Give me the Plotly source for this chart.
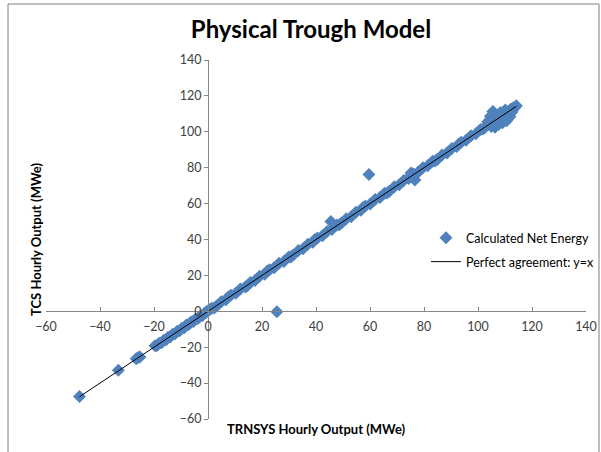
import plotly.graph_objects as go

# ---- data ----
trnsys_mwe = [
    -47.6, -33.2, -26.6, -25.9, -25.2,
    -19.6, -18.9, -18.1, -17.2, -16.4, -15.5, -14.8, -13.9, -13.1, -12.2,
    -11.4, -10.5, -9.7, -8.8, -8.0, -7.1, -6.3, -5.4, -4.6, -3.7, -2.9,
    -2.0, -1.2, -0.5, 0.0, 0.6,
    1.4, 3.2, 4.9, 6.6, 8.5, 10.3, 12.0, 13.8, 15.7, 17.4, 19.1, 21.0,
    22.8, 24.5, 26.3, 28.1, 29.9, 31.6, 33.5, 35.2, 37.0, 38.8, 40.5,
    42.4, 44.1, 45.9, 47.7, 49.5, 51.2, 53.0, 54.8, 56.6, 58.3, 60.1,
    61.9, 63.7, 65.4, 67.2, 69.0, 70.8, 72.5, 74.3, 76.1, 77.9, 79.6,
    81.4, 83.2, 85.0, 86.7, 88.5, 90.3, 92.1, 93.8, 95.6, 97.4, 99.2,
    100.9, 102.5, 104.0, 105.3, 106.7, 108.0, 109.4, 110.8, 112.1, 113.4, 114.2,
    2.3, 7.5, 14.6, 22.0, 30.7, 39.5, 48.6, 57.4, 66.3, 75.1, 84.1, 93.0,
    25.5, 45.5, 59.6, 76.6, 75.2,
    103.6, 104.6, 105.5, 106.4, 104.9, 106.3, 107.6, 109.1, 110.6, 111.8,
    112.6, 113.1, 108.3, 110.1, 101.8,
]
tcs_mwe = [
    -47.4, -32.9, -26.4, -25.7, -25.4,
    -19.2, -19.1, -17.8, -17.5, -16.1, -15.8, -14.5, -14.2, -12.8, -12.5,
    -11.1, -10.8, -9.4, -9.1, -7.7, -7.4, -6.0, -5.7, -4.3, -4.0, -2.6,
    -2.3, -0.9, -0.2, 0.3, 0.9,
    1.7, 3.0, 5.3, 6.4, 8.9, 10.1, 12.4, 13.6, 16.1, 17.1, 19.5, 20.7,
    23.2, 24.2, 26.7, 27.8, 30.3, 31.3, 33.9, 34.9, 37.4, 38.5, 40.9,
    42.1, 44.5, 45.6, 48.1, 49.2, 51.6, 52.7, 55.2, 56.3, 58.7, 59.8,
    62.3, 63.4, 65.8, 66.9, 69.4, 70.5, 72.9, 74.0, 76.5, 77.6, 80.0,
    81.1, 83.6, 84.7, 87.1, 88.2, 90.7, 91.8, 94.2, 95.3, 97.8, 98.9,
    101.3, 102.2, 104.4, 105.0, 107.1, 107.7, 109.8, 110.5, 112.5, 113.1, 114.5,
    1.9, 7.9, 14.2, 22.4, 30.3, 39.9, 48.2, 57.8, 65.9, 75.5, 83.7, 93.4,
    -0.2, 50.0, 76.2, 73.2, 77.1,
    105.6, 108.6, 111.3, 109.9, 103.0, 102.6, 104.0, 105.0, 106.1, 108.4,
    111.0, 113.4, 110.7, 112.1, 101.5,
]
line_x = [-47.6, 114.2]
line_y = [-47.6, 114.2]

x_ticks = [-60, -40, -20, 0, 20, 40, 60, 80, 100, 120, 140]
y_ticks = [-60, -40, -20, 0, 20, 40, 60, 80, 100, 120, 140]

FONT = "Lato"
BLUE = "#4F81BD"
AXIS = "#868686"
TXT = "#404040"

W, H = 601, 452
ML, MR, MT, MB = 46, 15, 60, 33
PW, PH = W - ML - MR, H - MT - MB


def px(x):
    return (x - ML) / PW


def py(y):
    return (H - MB - y) / PH


fig = go.Figure()
fig.add_trace(go.Scatter(
    x=trnsys_mwe, y=tcs_mwe, mode="markers", name="Calculated Net Energy",
    marker=dict(symbol="diamond", size=10, color=BLUE, line=dict(width=0)),
    legend="legend",
))
fig.add_trace(go.Scatter(
    x=line_x, y=line_y, mode="lines", name="Perfect agreement: y=x",
    line=dict(color="#000000", width=1),
    legend="legend2",
))

axis_common = dict(
    range=[-60, 140], showgrid=False, zeroline=False, showline=True,
    linecolor=AXIS, linewidth=1, tickcolor=AXIS, ticklen=4,
    tickfont=dict(family=FONT, size=12.5, color=TXT), anchor="free",
    position=0.3, automargin=False,
)
fig.update_xaxes(tickvals=x_ticks, ticks="inside", ticklabelstandoff=4, **axis_common)
fig.update_yaxes(tickvals=y_ticks, ticks="outside", **axis_common)

legend_common = dict(
    font=dict(family=FONT, size=12.5, color="#000000"), bgcolor="rgba(0,0,0,0)",
    xanchor="left", yanchor="middle", itemwidth=30, tracegroupgap=0,
    xref="container", yref="container",
)
fig.update_layout(
    width=W, height=H,
    margin=dict(l=ML, r=MR, t=MT, b=MB, autoexpand=False),
    paper_bgcolor="white", plot_bgcolor="white",
    font=dict(family=FONT, color=TXT),
    title=dict(text="<b>Physical Trough Model</b>", x=311 / W, xref="container",
               y=1 - 30 / H, yref="container", xanchor="center", yanchor="middle",
               font=dict(family=FONT, size=24, color="#000000")),
    legend=dict(x=426 / W, y=1 - 238 / H, **legend_common),
    legend2=dict(x=426 / W, y=1 - 262 / H, **legend_common),
    showlegend=True,
    annotations=[
        dict(text="<b>TCS Hourly Output (MWe)</b>", textangle=-90, x=px(36), y=py(240),
             xref="paper", yref="paper", showarrow=False, xanchor="center",
             yanchor="middle", font=dict(family=FONT, size=13, color="#000000")),
        dict(text="<b>TRNSYS Hourly Output (MWe)</b>", x=px(316), y=py(429),
             xref="paper", yref="paper", showarrow=False, xanchor="center",
             yanchor="middle", font=dict(family=FONT, size=13, color="#000000")),
    ],
    shapes=[
        dict(type="rect", xref="paper", yref="paper", x0=px(8), x1=px(599),
             y0=py(470), y1=py(4), line=dict(color="#7f7f7f", width=1),
             fillcolor="rgba(0,0,0,0)", layer="below"),
    ],
)

fig.write_html(
    "out.html",
    config={"displayModeBar": False},
    post_script="document.body.style.margin='0';document.body.style.overflow='hidden';",
)
